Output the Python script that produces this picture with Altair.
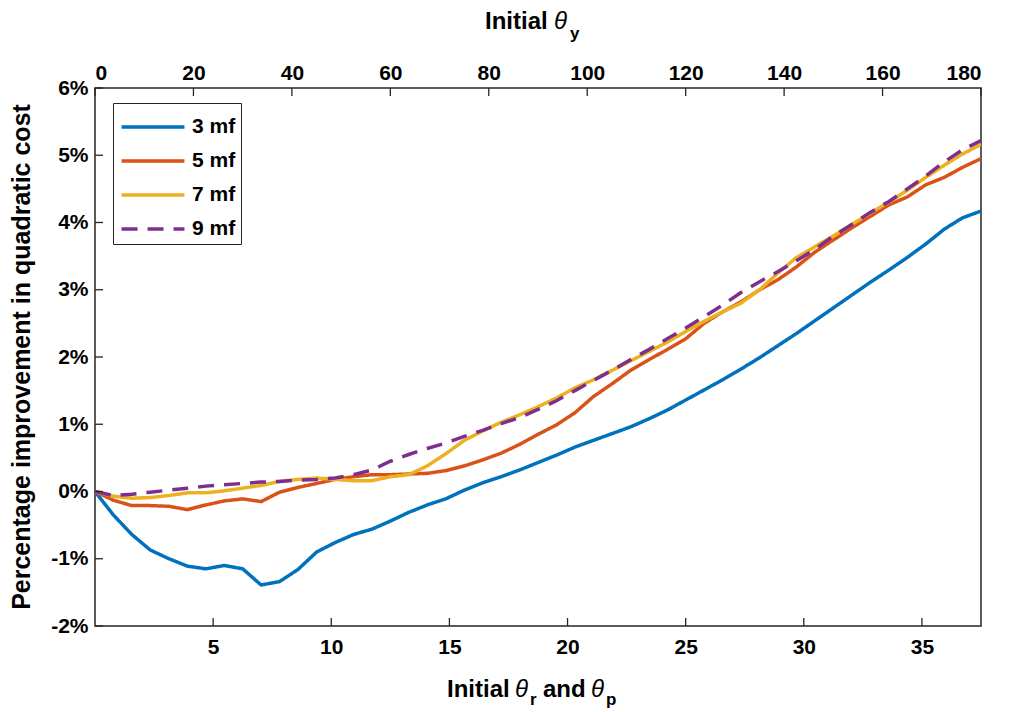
import altair as alt
import pandas as pd

# ---------------- data ----------------
theta_rp = [0, 0.78, 1.56, 2.34, 3.13, 3.91, 4.69, 5.47, 6.25, 7.03, 7.81, 8.59, 9.38,
            10.16, 10.94, 11.72, 12.5, 13.28, 14.06, 14.84, 15.63, 16.41, 17.19, 17.97,
            18.75, 19.53, 20.31, 21.09, 21.88, 22.66, 23.44, 24.22, 25.0, 25.78, 26.56,
            27.34, 28.13, 28.91, 29.69, 30.47, 31.25, 32.03, 32.81, 33.59, 34.38, 35.16,
            35.94, 36.72, 37.5]

mf3 = [0, -0.35, -0.64, -0.87, -1.0, -1.11, -1.15, -1.1, -1.15, -1.39, -1.34, -1.16, -0.9,
       -0.76, -0.64, -0.56, -0.44, -0.31, -0.2, -0.11, 0.02, 0.13, 0.22, 0.32,
       0.43, 0.54, 0.66, 0.76, 0.86, 0.96, 1.08, 1.21, 1.36, 1.51, 1.66, 1.82, 1.99,
       2.17, 2.35, 2.54, 2.73, 2.92, 3.11, 3.29, 3.48, 3.68, 3.9, 4.07, 4.17]

mf5 = [0, -0.13, -0.21, -0.21, -0.22, -0.27, -0.2, -0.14, -0.11, -0.15, -0.01, 0.06, 0.12,
       0.18, 0.22, 0.25, 0.25, 0.26, 0.27, 0.31, 0.38, 0.47, 0.57, 0.7,
       0.85, 0.99, 1.17, 1.41, 1.6, 1.8, 1.96, 2.11, 2.27, 2.5, 2.67, 2.82, 3.0,
       3.15, 3.34, 3.56, 3.74, 3.92, 4.09, 4.26, 4.38, 4.56, 4.67, 4.82, 4.95]

mf7 = [0, -0.07, -0.1, -0.09, -0.06, -0.02, -0.02, 0.01, 0.05, 0.09, 0.15, 0.18, 0.2,
       0.18, 0.16, 0.16, 0.22, 0.25, 0.38, 0.56, 0.76, 0.9, 1.03, 1.14,
       1.26, 1.39, 1.54, 1.66, 1.8, 1.94, 2.08, 2.22, 2.38, 2.53, 2.67, 2.8, 3.0,
       3.25, 3.48, 3.64, 3.8, 3.97, 4.14, 4.3, 4.48, 4.67, 4.85, 5.02, 5.16]

mf9 = [0, -0.06, -0.04, -0.01, 0.02, 0.05, 0.08, 0.1, 0.12, 0.14, 0.15, 0.17, 0.18,
       0.2, 0.25, 0.32, 0.45, 0.55, 0.64, 0.72, 0.82, 0.91, 1.01, 1.1,
       1.22, 1.35, 1.5, 1.65, 1.8, 1.96, 2.11, 2.27, 2.43, 2.6, 2.77, 2.96, 3.12,
       3.27, 3.43, 3.6, 3.8, 3.97, 4.15, 4.31, 4.5, 4.69, 4.9, 5.08, 5.22]

series_names = ["3 mf", "5 mf", "7 mf", "9 mf"]
series_values = [mf3, mf5, mf7, mf9]
colors = ["#0072BD", "#D95319", "#EDB120", "#7E2F8E"]
dashes = [[1, 0], [1, 0], [1, 0], [16, 10]]

bottom_ticks = [5, 10, 15, 20, 25, 30, 35]
top_ticks = [0, 20, 40, 60, 80, 100, 120, 140, 160, 180]
y_ticks = [-2, -1, 0, 1, 2, 3, 4, 5, 6]

# ---------------- tables ----------------
rows = []
for name, vals in zip(series_names, series_values):
    for xv, yv in zip(theta_rp, vals):
        rows.append({"x": xv, "v": yv, "series": name})
df = pd.DataFrame(rows)

W, H = 886, 538
FONT = "Liberation Sans"
AX = "#262626"
TICKFS = 21
TITLEFS = 24

x_enc_axis = alt.Axis(values=bottom_ticks, orient="bottom", domain=False, ticks=False,
                      grid=False, labelPadding=10, title=None)
y_axis = alt.Axis(values=y_ticks, labelExpr="datum.value + '%'", domain=False,
                  ticks=False, grid=False, labelPadding=7, title=None)
x_scale = alt.Scale(domain=[0, 37.5], nice=False, zero=False)
y_scale = alt.Scale(domain=[-2, 6], nice=False, zero=False)

leg = alt.Legend(title=None, orient="none", legendX=18, legendY=15,
                 strokeColor=AX, fillColor="white", padding=5,
                 symbolType="M-1.85,0H1.85", symbolStrokeWidth=3.5, symbolSize=1156,
                 symbolOffset=16,
                 labelFontSize=TICKFS, labelFont=FONT, labelFontWeight="bold",
                 labelColor="black", rowPadding=5, labelOffset=20)

lines = alt.Chart(df).mark_line(strokeWidth=3.5, clip=True).encode(
    x=alt.X("x:Q", scale=x_scale, axis=x_enc_axis),
    y=alt.Y("v:Q", scale=y_scale, axis=y_axis),
    color=alt.Color("series:N", scale=alt.Scale(domain=series_names, range=colors), legend=leg),
    strokeDash=alt.StrokeDash("series:N", scale=alt.Scale(domain=series_names, range=dashes), legend=leg),
    order=alt.Order("x:Q"),
)

xt = alt.Chart(pd.DataFrame({"x": bottom_ticks})).mark_rule(color=AX, strokeWidth=1.3).encode(
    x=alt.X("x:Q", scale=x_scale, axis=x_enc_axis),
    y=alt.value(H), y2=alt.value(H - 8),
)
yt = alt.Chart(pd.DataFrame({"v": y_ticks})).mark_rule(color=AX, strokeWidth=1.3).encode(
    y=alt.Y("v:Q", scale=y_scale, axis=y_axis),
    x=alt.value(0), x2=alt.value(8),
)

one = pd.DataFrame({"a": [0]})

def txt(s, x, y, size=TITLEFS, style="normal", weight="bold"):
    return alt.Chart(one).mark_text(text=s, font=FONT, fontSize=size, fontStyle=style,
                                    fontWeight=weight, color="black", align="left",
                                    baseline="alphabetic").encode(
        x=alt.value(x), y=alt.value(y))

titles = [
    # bottom title
    txt("Initial", 352, 609),
    txt("θ", 420, 609, style="italic", weight="normal"),
    txt("r", 435, 617, size=17),
    txt("and", 448, 609),
    txt("θ", 496, 609, style="italic", weight="normal"),
    txt("p", 511, 617, size=17),
    # top title
    txt("Initial", 390, -59),
    txt("θ", 459, -59, style="italic", weight="normal"),
    txt("y", 475, -49, size=17),
    # y title
    alt.Chart(one).mark_text(text="Percentage improvement in quadratic cost", font=FONT,
                             fontSize=25, fontWeight="bold", color="black", angle=270,
                             align="center", baseline="middle").encode(
        x=alt.value(-73), y=alt.value(H / 2)),
]

inner = alt.layer(lines, xt, yt, *titles)

top = alt.Chart(pd.DataFrame({"ty": top_ticks})).mark_rule(color=AX, strokeWidth=1.3).encode(
    x=alt.X("ty:Q", scale=alt.Scale(domain=[0, 180], nice=False, zero=False),
            axis=alt.Axis(values=top_ticks, orient="top", domain=False, ticks=False,
                          grid=False, labelPadding=5, title=None)),
    y=alt.value(0), y2=alt.value(8),
)

chart = alt.layer(inner, top).resolve_scale(x="independent").properties(
    width=W, height=H,
    autosize=alt.AutoSizeParams(type="none"),
    padding={"left": 87, "top": 80, "right": 20, "bottom": 86},
).configure_axis(
    labelFont=FONT, labelFontWeight="bold", labelFontSize=TICKFS, labelColor="black",
).configure_view(stroke=AX, strokeWidth=1.5)

chart.save("out.html", embed_options={"renderer": "svg", "actions": False})
